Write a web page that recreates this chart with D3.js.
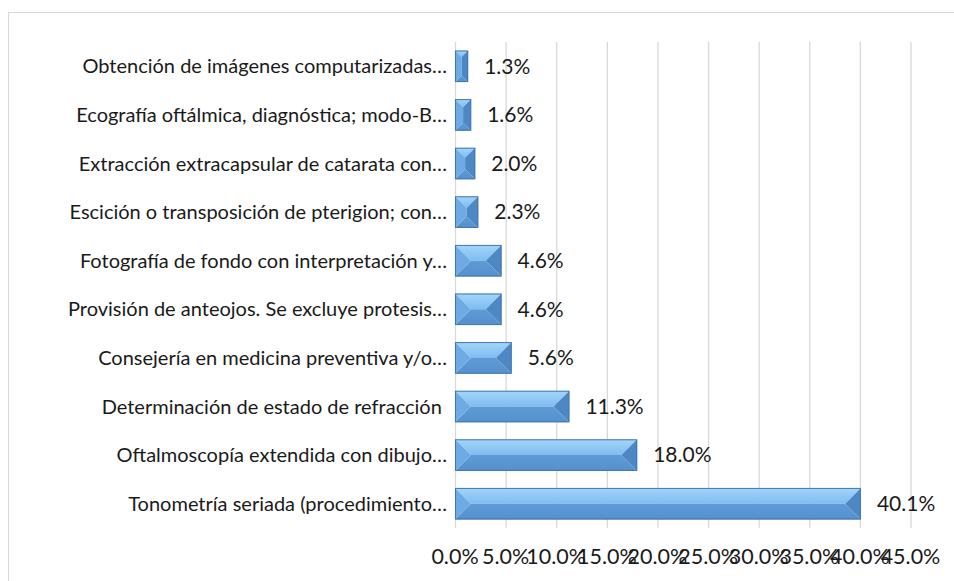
<!DOCTYPE html>
<html>
<head>
<meta charset="utf-8">
<script src="https://cdn.jsdelivr.net/npm/d3@7"></script>
<style>
  body { margin: 0; background: #fff; }
  svg text { font-family: Lato, "Open Sans", sans-serif; fill: #1a1a1a; }
</style>
</head>
<body>
<div id="chart"></div>
<script>
"use strict";

// categories, top to bottom as shown
const categories = [
  "Obtención de imágenes computarizadas…",
  "Ecografía oftálmica, diagnóstica; modo-B…",
  "Extracción extracapsular de catarata con…",
  "Escición o transposición de pterigion; con…",
  "Fotografía de fondo con interpretación y…",
  "Provisión de anteojos. Se excluye protesis…",
  "Consejería en medicina preventiva y/o…",
  "Determinación de estado de refracción ",
  "Oftalmoscopía extendida con dibujo…",
  "Tonometría seriada (procedimiento…"
]
const values = [1.3, 1.6, 2.0, 2.3, 4.6, 4.6, 5.6, 11.3, 18.0, 40.1]
const xTicks = [0, 5, 10, 15, 20, 25, 30, 35, 40, 45]

const width = 954, height = 581
const margins = {top: 42, right: 44, bottom: 53, left: 455}

const svg = d3.select("#chart").append("svg")
  .attr("width", width)
  .attr("height", height)

// gradients for the bevel faces
const defs = svg.append("defs")
const topGrad = defs.append("linearGradient").attr("id", "topGrad")
  .attr("x1", 0).attr("y1", 0).attr("x2", 0).attr("y2", 1)
topGrad.append("stop").attr("offset", "0%").attr("stop-color", "#a3d6fb")
topGrad.append("stop").attr("offset", "100%").attr("stop-color", "#7fbcef")
const botGrad = defs.append("linearGradient").attr("id", "botGrad")
  .attr("x1", 0).attr("y1", 0).attr("x2", 0).attr("y2", 1)
botGrad.append("stop").attr("offset", "0%").attr("stop-color", "#5e9bd6")
botGrad.append("stop").attr("offset", "100%").attr("stop-color", "#5690cc")

// chart area border
svg.append("rect")
  .attr("x", 8.5).attr("y", 12.5)
  .attr("width", 960).attr("height", 600)
  .attr("fill", "none")
  .attr("stroke", "#d9d9d9")

let xScale = d3.scaleLinear().domain([0, 45]).range([margins.left, width - margins.right + 0.5])
let yScale = d3.scaleBand().domain(categories)
  .range([margins.top, height - margins.bottom])
  .paddingInner(0.35).paddingOuter(0.175)

// gridlines
svg.append("g").attr("class", "xgrid")
  .attr("transform", `translate(0,${height - margins.bottom})`)
  .call(d3.axisBottom(xScale).tickValues(xTicks)
    .tickSize(-(height - margins.bottom - margins.top)).tickFormat(""))
  .call(g => g.select(".domain").remove())
  .call(g => g.selectAll("line").attr("stroke", "#d9d9d9").attr("stroke-width", 1.3))

// x tick labels
svg.append("g").selectAll("text").data(xTicks).enter()
  .append("text")
  .attr("x", d => xScale(d))
  .attr("y", 564)
  .attr("text-anchor", "middle")
  .style("font-size", "21.5px")
  .text(d => d.toFixed(1) + "%")

// category labels
svg.append("g").selectAll("text").data(categories).enter()
  .append("text")
  .attr("x", 447)
  .attr("y", d => yScale(d) + yScale.bandwidth() / 2)
  .attr("dy", "0.35em")
  .attr("text-anchor", "end")
  .style("font-size", "20px")
  .style("white-space", "pre")
  .text(d => d)

// bevelled bars
svg.append("g").selectAll("g").data(categories).enter()
  .append("g")
  .each(function(c, i){
    let g = d3.select(this)
    let x0 = xScale(0), x1 = xScale(values[i])
    let y0 = yScale(c), y1 = y0 + yScale.bandwidth()
    let w = x1 - x0, h = y1 - y0
    let b = Math.min(h / 2, w / 2)
    let poly = pts => pts.map(p => p.join(",")).join(" ")
    // top face
    g.append("polygon").attr("points", poly([[x0, y0], [x1, y0], [x1 - b, y0 + b], [x0 + b, y0 + b]]))
      .attr("fill", "url(#topGrad)")
    // bottom face
    g.append("polygon").attr("points", poly([[x0, y1], [x0 + b, y1 - b], [x1 - b, y1 - b], [x1, y1]]))
      .attr("fill", "url(#botGrad)")
    // left face
    g.append("polygon").attr("points", poly([[x0, y0], [x0 + b, y0 + b], [x0 + b, y1 - b], [x0, y1]]))
      .attr("fill", "#6eaae4")
    // right face
    g.append("polygon").attr("points", poly([[x1, y0], [x1, y1], [x1 - b, y1 - b], [x1 - b, y0 + b]]))
      .attr("fill", "#4e88c4")
    // outline
    g.append("rect").attr("x", x0 + 0.5).attr("y", y0 + 0.5).attr("width", Math.max(0, w - 1)).attr("height", h - 1)
      .attr("fill", "none").attr("stroke", "#4178b2").attr("stroke-width", 1)
  })

// value labels
svg.append("g").selectAll("text").data(categories).enter()
  .append("text")
  .attr("x", (c, i) => xScale(values[i]) + 16)
  .attr("y", c => yScale(c) + yScale.bandwidth() / 2)
  .attr("dy", "0.35em")
  .style("font-size", "21px")
  .text((c, i) => values[i].toFixed(1) + "%")
</script>
</body>
</html>
